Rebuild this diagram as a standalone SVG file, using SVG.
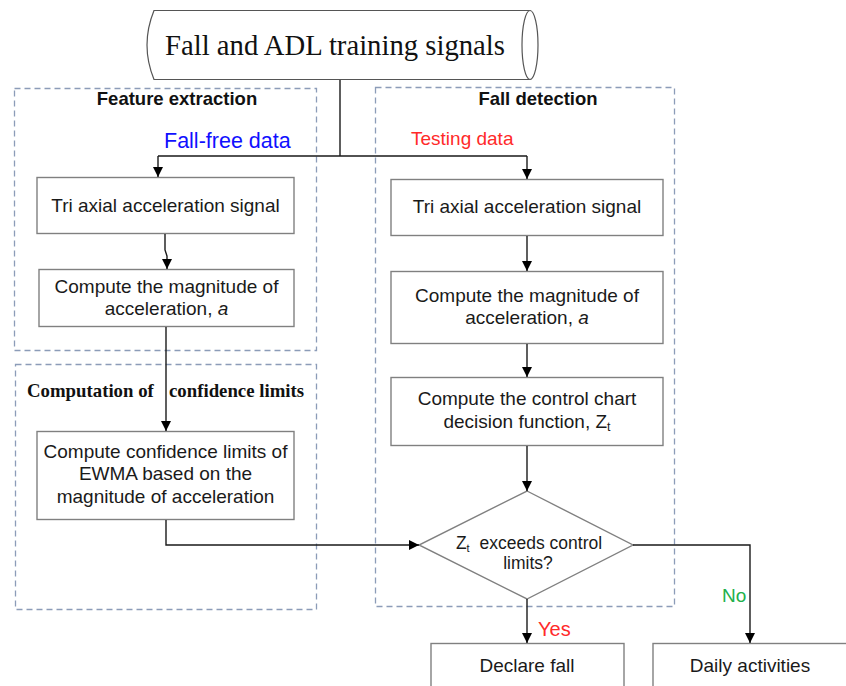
<svg xmlns="http://www.w3.org/2000/svg" width="846" height="686" viewBox="0 0 846 686">
<defs>
<marker id="arr" viewBox="0 0 10 10" refX="10" refY="5" markerWidth="10" markerHeight="10" markerUnits="userSpaceOnUse" orient="auto">
<path d="M0,0 L10,5 L0,10 Z" fill="#000"/>
</marker>
<style>
.box{fill:#fff;stroke:#808080;stroke-width:1.4}
.grp{fill:none;stroke:#8c9cb8;stroke-width:1.3;stroke-dasharray:6 4}
.ln{fill:none;stroke:#1a1a1a;stroke-width:1.4}
.t{font-family:"Liberation Sans",Arial,sans-serif;font-size:19px;fill:#1a1a1a;text-anchor:middle}
.h{font-family:"Liberation Sans",Arial,sans-serif;font-size:18.5px;font-weight:bold;fill:#111;text-anchor:middle}
.hs{font-family:"Liberation Serif","Times New Roman",serif;font-size:18.8px;font-weight:bold;fill:#111}
.lab{font-family:"Liberation Sans",Arial,sans-serif;font-size:19px}
</style>
</defs>
<rect width="846" height="686" fill="#fff"/>

<g id="group-feature-extraction">
<rect class="grp" x="14.5" y="88.5" width="302" height="262"/>
<text class="h" x="177" y="105">Feature extraction</text>
</g>
<g id="group-confidence-limits">
<rect class="grp" x="15.5" y="364.5" width="301" height="245"/>
<text class="hs" x="27" y="397">Computation of</text>
<text class="hs" x="169" y="397">confidence limits</text>
</g>
<g id="group-fall-detection">
<rect class="grp" x="375.5" y="87.5" width="299" height="519"/>
<text class="h" x="538" y="105">Fall detection</text>
</g>

<g id="node-signals">
<path d="M154,10.5 L530,10.5 L530,79.5 L154,79.5 Q140,45 154,10.5 Z" fill="#fff" stroke="#555" stroke-width="1.2"/>
<ellipse cx="530" cy="45" rx="8" ry="34.5" fill="#fff" stroke="#555" stroke-width="1.2"/>
<text x="335" y="55" font-family="'Liberation Serif','Times New Roman',serif" font-size="28.7" fill="#111" text-anchor="middle">Fall and ADL training signals</text>
</g>

<g id="node-left-tri">
<rect class="box" x="37" y="177.5" width="257" height="56"/>
<text class="t" x="165.5" y="212">Tri axial acceleration signal</text>
</g>
<g id="node-left-mag">
<rect class="box" x="39" y="269.5" width="255" height="57"/>
<text class="t" x="166.5" y="293">Compute the magnitude of</text>
<text class="t" x="166.5" y="315">acceleration, <tspan font-style="italic">a</tspan></text>
</g>
<g id="node-conf">
<rect class="box" x="37" y="431.5" width="257" height="88"/>
<text class="t" x="165.5" y="458">Compute confidence limits of</text>
<text class="t" x="165.5" y="480">EWMA based on the</text>
<text class="t" x="165.5" y="503">magnitude of acceleration</text>
</g>

<g id="node-right-tri">
<rect class="box" x="391" y="179.5" width="272" height="56"/>
<text class="t" x="527" y="213">Tri axial acceleration signal</text>
</g>
<g id="node-right-mag">
<rect class="box" x="391" y="271.5" width="272" height="72"/>
<text class="t" x="527" y="302">Compute the magnitude of</text>
<text class="t" x="527" y="324">acceleration, <tspan font-style="italic">a</tspan></text>
</g>
<g id="node-control">
<rect class="box" x="391" y="377.5" width="272" height="68"/>
<text class="t" x="527" y="405">Compute the control chart</text>
<text class="t" x="527" y="428">decision function, Z<tspan style="font-size:12.5px" dy="3">t</tspan></text>
</g>
<g id="node-decision">
<path class="box" d="M527,491 L633,545 L527,599 L419,545 Z"/>
<text class="t" x="529" y="549" style="font-size:17.5px">Z<tspan style="font-size:11px" dy="3">t</tspan><tspan dy="-3" dx="5"> exceeds control</tspan></text>
<text class="t" x="528" y="569" style="font-size:17.5px">limits?</text>
</g>
<g id="node-declare">
<rect class="box" x="431" y="643.5" width="193" height="60"/>
<text class="t" x="527" y="672">Declare fall</text>
</g>
<g id="node-daily">
<rect class="box" x="653" y="643.5" width="200" height="60"/>
<text class="t" x="750" y="672">Daily activities</text>
</g>

<g id="connectors">
<path class="ln" d="M340,80 L340,156 M158,156 L527,156"/>
<path class="ln" d="M158,156 L158,177" marker-end="url(#arr)"/>
<path class="ln" d="M527,156 L527,179" marker-end="url(#arr)"/>
<path class="ln" d="M165,234 L165,250 L167,256 L167,269" marker-end="url(#arr)"/>
<path class="ln" d="M166,327 L166,431" marker-end="url(#arr)"/>
<path class="ln" d="M166,520 L166,545 L419,545" marker-end="url(#arr)"/>
<path class="ln" d="M527,236 L527,271" marker-end="url(#arr)"/>
<path class="ln" d="M527,344 L527,377" marker-end="url(#arr)"/>
<path class="ln" d="M527,446 L527,491" marker-end="url(#arr)"/>
<path class="ln" d="M527,599 L527,643" marker-end="url(#arr)"/>
<path class="ln" d="M633,545 L750,545 L750,643" marker-end="url(#arr)"/>
<text class="lab" x="164" y="148" fill="#1010ff" style="font-size:21.5px">Fall-free data</text>
<text class="lab" x="411" y="145" fill="#ff2a2a">Testing data</text>
<text class="lab" x="538" y="636" fill="#ff2a2a" style="font-size:20px">Yes</text>
<text class="lab" x="722" y="602" fill="#22b04b">No</text>
</g>
</svg>
